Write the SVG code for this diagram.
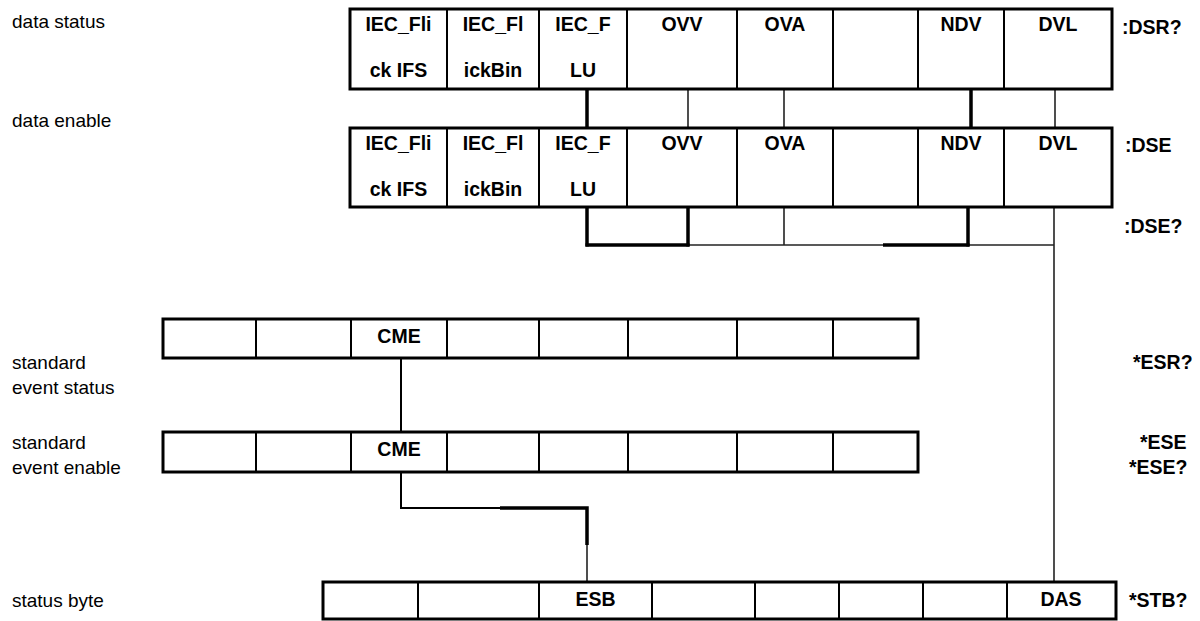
<svg xmlns="http://www.w3.org/2000/svg" width="1200" height="621" viewBox="0 0 1200 621">
<style>
.box{fill:#fff;stroke:#000;stroke-width:3}
.dv{stroke:#000;stroke-width:2;fill:none}
.thin{stroke:#222;stroke-width:1.6;fill:none}
.thk{stroke:#000;stroke-width:3.5;fill:none}
.b{font-family:"Liberation Sans",Arial,sans-serif;font-weight:bold;font-size:19.5px;text-anchor:middle;fill:#000}
.r{font-family:"Liberation Sans",Arial,sans-serif;font-weight:bold;font-size:19.5px;fill:#000}
.l{font-family:"Liberation Sans",Arial,sans-serif;font-size:19px;fill:#000}
</style>
<rect width="1200" height="621" fill="#fff"/>

<g id="labels">
<text class="l" x="12" y="28">data status</text>
<text class="l" x="12" y="127">data enable</text>
<text class="l" x="12" y="369">standard</text>
<text class="l" x="12" y="394">event status</text>
<text class="l" x="12" y="449">standard</text>
<text class="l" x="12" y="474">event enable</text>
<text class="l" x="12" y="607">status byte</text>
<text class="r" x="1122" y="34">:DSR?</text>
<text class="r" x="1125" y="152">:DSE</text>
<text class="r" x="1124" y="233">:DSE?</text>
<text class="r" x="1133" y="369">*ESR?</text>
<text class="r" x="1140" y="449">*ESE</text>
<text class="r" x="1129" y="474">*ESE?</text>
<text class="r" x="1129" y="607">*STB?</text>
</g>

<g id="connectors">
<line class="thk" x1="587" y1="90" x2="587" y2="128"/>
<line class="thin" x1="688" y1="90" x2="688" y2="128"/>
<line class="thin" x1="784" y1="90" x2="784" y2="128"/>
<line class="thk" x1="971" y1="90" x2="971" y2="128"/>
<line class="thin" x1="1055" y1="90" x2="1055" y2="128"/>
<line class="thin" x1="587" y1="245" x2="1054" y2="245"/>
<line class="thk" x1="587" y1="207" x2="587" y2="246.5"/>
<line class="thk" x1="688" y1="207" x2="688" y2="246.5"/>
<line class="thin" x1="784" y1="207" x2="784" y2="245"/>
<line class="thk" x1="968" y1="207" x2="968" y2="246.5"/>
<line class="thk" x1="585.5" y1="245" x2="689.5" y2="245"/>
<line class="thk" x1="883" y1="245" x2="969.5" y2="245"/>
<line class="thin" x1="1054" y1="207" x2="1054" y2="582"/>
<line class="dv" x1="401" y1="358" x2="401" y2="432"/>
<polyline class="dv" points="401,472 401,508 500,508"/>
<polyline class="thk" points="500,508 587,508 587,545"/>
<line class="thin" x1="587" y1="545" x2="587" y2="582"/>
</g>

<g id="data-status">
<rect class="box" x="350" y="9" width="762" height="80"/>
<path class="dv" d="M447 9V89M539 9V89M627 9V89M737 9V89M833 9V89M918 9V89M1004 9V89"/>
<text class="b" x="398.5" y="31">IEC_Fli</text><text class="b" x="398.5" y="77">ck IFS</text>
<text class="b" x="493" y="31">IEC_Fl</text><text class="b" x="493" y="77">ickBin</text>
<text class="b" x="583" y="31">IEC_F</text><text class="b" x="583" y="77">LU</text>
<text class="b" x="682" y="31">OVV</text>
<text class="b" x="785" y="31">OVA</text>
<text class="b" x="961" y="31">NDV</text>
<text class="b" x="1058" y="31">DVL</text>
</g>

<g id="data-enable">
<rect class="box" x="350" y="128" width="762" height="79"/>
<path class="dv" d="M447 128V207M539 128V207M627 128V207M737 128V207M833 128V207M918 128V207M1004 128V207"/>
<text class="b" x="398.5" y="150">IEC_Fli</text><text class="b" x="398.5" y="196">ck IFS</text>
<text class="b" x="493" y="150">IEC_Fl</text><text class="b" x="493" y="196">ickBin</text>
<text class="b" x="583" y="150">IEC_F</text><text class="b" x="583" y="196">LU</text>
<text class="b" x="682" y="150">OVV</text>
<text class="b" x="785" y="150">OVA</text>
<text class="b" x="961" y="150">NDV</text>
<text class="b" x="1058" y="150">DVL</text>
</g>

<g id="std-event-status">
<rect class="box" x="163" y="319" width="755" height="39"/>
<path class="dv" d="M256 319V358M351 319V358M447 319V358M539 319V358M628 319V358M737 319V358M833 319V358"/>
<text class="b" x="399" y="343">CME</text>
</g>

<g id="std-event-enable">
<rect class="box" x="163" y="432" width="755" height="40"/>
<path class="dv" d="M256 432V472M351 432V472M447 432V472M539 432V472M628 432V472M737 432V472M833 432V472"/>
<text class="b" x="399" y="456">CME</text>
</g>

<g id="status-byte">
<rect class="box" x="323" y="582" width="793" height="37"/>
<path class="dv" d="M418 582V619M539 582V619M652 582V619M755 582V619M839 582V619M923 582V619M1007 582V619"/>
<text class="b" x="595.5" y="606">ESB</text>
<text class="b" x="1061" y="606">DAS</text>
</g>
</svg>
